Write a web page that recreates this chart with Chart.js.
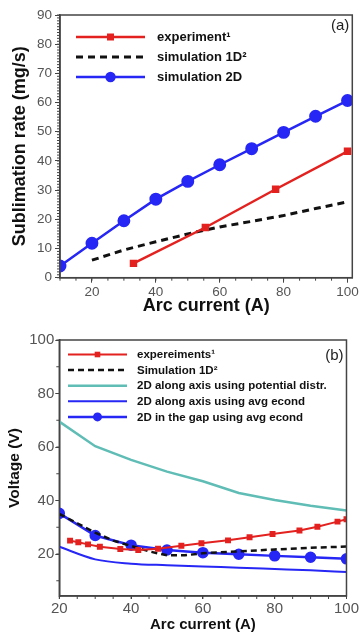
<!DOCTYPE html>
<html>
<head>
<meta charset="utf-8">
<script src="https://cdn.jsdelivr.net/npm/chart.js@4/dist/chart.umd.min.js"></script>
<style>
  body { margin: 0; background: #fff; }
  .panel { position: absolute; left: 0; width: 360px; height: 316px; }
</style>
</head>
<body>
<div class="panel" style="top:0"><canvas id="chartA" width="360" height="316"></canvas></div>
<div class="panel" style="top:316px"><canvas id="chartB" width="360" height="316"></canvas></div>
<script>
// ---- panel (a): sublimation rate ----
const simCurrentA = [10, 20, 30, 40, 50, 60, 70, 80, 90, 100];
const sim2DRate = [4.0, 11.8, 19.5, 26.9, 33.0, 38.7, 44.2, 49.8, 55.3, 60.7];
const expCurrentA = [33, 55.5, 77.5, 100];
const expRate = [4.9, 17.2, 30.3, 43.3];
const sim1DCurrentA = [20, 30, 40, 50, 60, 70, 80, 90, 100];
const sim1DRate = [6.0, 9.5, 12.3, 15.0, 17.4, 19.3, 21.3, 23.7, 26.0];
const xTicksA = [20, 40, 60, 80, 100];

// ---- panel (b): voltage ----
const expCurrentB = [23, 25.3, 28, 31.3, 37, 42, 47.5, 54, 59.6, 67, 73, 79.4, 86.9, 91.9, 97.5, 100];
const expVoltage = [25.0, 24.4, 23.6, 22.7, 21.9, 21.5, 22.0, 23.1, 24.0, 25.1, 26.3, 27.5, 28.8, 30.2, 32.1, 33.0];
const sim1DCurrentB = [20, 25, 30, 35, 40, 45, 50, 55, 60, 70, 80, 90, 100];
const sim1DVoltage = [35.0, 31.5, 28.0, 25.0, 23.0, 21.0, 19.5, 19.5, 20.3, 21.0, 21.7, 22.3, 22.8];
const simCurrentB = [20, 30, 40, 50, 60, 70, 80, 90, 100];
const potentialVoltage = [69.5, 60.3, 55.2, 50.8, 47.2, 42.8, 40.2, 38.0, 36.3];
const axisEcondVoltage = [22.7, 18.0, 16.4, 15.8, 15.3, 14.9, 14.4, 13.9, 13.3];
const gapEcondVoltage = [35.2, 26.9, 23.3, 21.5, 20.5, 19.9, 19.3, 18.8, 18.2];
const yTicksB = [20, 40, 60, 80, 100];
const xTicksB = [20, 40, 60, 80, 100];

const RED = '#e3211f';
const BLUE = '#2626f5';
const TEAL = '#5fbdb6';
const AXIS = '#444';

function pts(xs, ys) {
  return xs.map((x, i) => ({ x: x, y: ys[i] }));
}

// frame, minor ticks, inner legend and panel tag
const decorations = {
  id: 'decorations',
  afterDraw(chart, args, opts) {
    const ctx = chart.ctx;
    const a = chart.chartArea;
    const xs = chart.scales.x, ys = chart.scales.y;
    ctx.save();
    ctx.strokeStyle = AXIS;
    ctx.lineWidth = 1.5;
    ctx.strokeRect(a.left, a.top, a.right - a.left, a.bottom - a.top);

    ctx.lineWidth = 1;
    for (let v = opts.minorX.from; v <= xs.max; v += opts.minorX.step) {
      const px = xs.getPixelForValue(v);
      ctx.beginPath(); ctx.moveTo(px, a.bottom); ctx.lineTo(px, a.bottom + 3); ctx.stroke();
    }
    for (let v = opts.minorY.from; v <= ys.max; v += opts.minorY.step) {
      const py = ys.getPixelForValue(v);
      ctx.beginPath(); ctx.moveTo(a.left, py); ctx.lineTo(a.left - 3, py); ctx.stroke();
    }

    // legend
    const lg = opts.legend;
    ctx.font = lg.font;
    ctx.textBaseline = 'middle';
    chart.data.datasets.forEach((ds, i) => {
      const y = lg.y + i * lg.gap;
      ctx.strokeStyle = ds.borderColor;
      ctx.lineWidth = ds.borderWidth;
      ctx.setLineDash(ds.borderDash || []);
      ctx.beginPath(); ctx.moveTo(lg.x0, y); ctx.lineTo(lg.x1, y); ctx.stroke();
      ctx.setLineDash([]);
      if (ds.pointRadius > 0) {
        const cx = (lg.x0 + lg.x1) / 2;
        ctx.fillStyle = ds.borderColor;
        ctx.beginPath();
        if (ds.pointStyle === 'rect') {
          const r = ds.pointRadius;
          ctx.rect(cx - r, y - r, 2 * r, 2 * r);
        } else {
          ctx.arc(cx, y, ds.pointRadius, 0, Math.PI * 2);
        }
        ctx.fill();
      }
      ctx.fillStyle = '#111';
      ctx.textAlign = 'left';
      ctx.fillText(ds.label, lg.textX, y + 0.5);
    });

    ctx.font = opts.tag.font;
    ctx.fillStyle = '#222';
    ctx.textAlign = 'right';
    ctx.fillText(opts.tag.text, a.right - 3, opts.tag.y);
    ctx.restore();
  }
};

function tickFix(values) {
  return function (scale) {
    scale.ticks = values.map(v => ({ value: v }));
  };
}

new Chart(document.getElementById('chartA'), {
  type: 'line',
  plugins: [decorations],
  data: {
    datasets: [
      {
        label: 'experiment¹',
        data: pts(expCurrentA, expRate),
        borderColor: RED, backgroundColor: RED, borderWidth: 2.5,
        pointStyle: 'rect', pointRadius: 3.5
      },
      {
        label: 'simulation 1D²',
        data: pts(sim1DCurrentA, sim1DRate),
        borderColor: '#111', backgroundColor: '#111', borderWidth: 3,
        borderDash: [7, 5], pointRadius: 0
      },
      {
        label: 'simulation 2D',
        data: pts(simCurrentA, sim2DRate),
        borderColor: BLUE, backgroundColor: BLUE, borderWidth: 2.5,
        pointStyle: 'circle', pointRadius: 5.2
      }
    ]
  },
  options: {
    responsive: false,
    animation: false,
    layout: { padding: { top: 15, right: 7.5, left: 0, bottom: 0 } },
    plugins: {
      legend: { display: false },
      tooltip: { enabled: false },
      decorations: {
        minorX: { from: 10, step: 5 },
        minorY: { from: 0, step: 1 },
        legend: { x0: 76, x1: 145, textX: 157, y: 37, gap: 20, font: 'bold 13px "Liberation Sans", Arial, sans-serif' },
        tag: { text: '(a)', y: 26, font: '15px "Liberation Sans", Arial, sans-serif' }
      }
    },
    scales: {
      x: {
        type: 'linear', min: 10, max: 101.5,
        afterBuildTicks: tickFix(xTicksA),
        afterFit(s) { s.height = 38.3; },
        grid: { drawOnChartArea: false, tickLength: 5, color: AXIS },
        border: { color: AXIS, width: 1.5 },
        ticks: { color: '#555', padding: 1, font: { family: '"Liberation Sans", Arial', size: 13.5 } },
        title: { display: true, text: 'Arc current (A)', color: '#111', padding: { top: 0, bottom: 0 },
                 font: { family: '"Liberation Sans", Arial', size: 18, weight: 'bold', lineHeight: 1.1 } }
      },
      y: {
        min: 0, max: 90,
        ticks: { stepSize: 10, color: '#555', padding: 3, font: { family: '"Liberation Sans", Arial', size: 13.5 } },
        afterFit(s) { s.width = 60; },
        grid: { drawOnChartArea: false, tickLength: 5, color: AXIS },
        border: { color: AXIS, width: 1.5 },
        title: { display: true, text: 'Sublimation rate (mg/s)', color: '#111', padding: { top: 10, bottom: 0 },
                 font: { family: '"Liberation Sans", Arial', size: 18, weight: 'bold', lineHeight: 1.1 } }
      }
    }
  }
});

new Chart(document.getElementById('chartB'), {
  type: 'line',
  plugins: [decorations],
  data: {
    datasets: [
      {
        label: 'expereiments¹',
        data: pts(expCurrentB, expVoltage),
        borderColor: RED, backgroundColor: RED, borderWidth: 2,
        pointStyle: 'rect', pointRadius: 2.8
      },
      {
        label: 'Simulation 1D²',
        data: pts(sim1DCurrentB, sim1DVoltage),
        borderColor: '#111', backgroundColor: '#111', borderWidth: 2.5,
        borderDash: [6, 4], pointRadius: 0
      },
      {
        label: '2D along axis using potential distr.',
        data: pts(simCurrentB, potentialVoltage),
        borderColor: TEAL, backgroundColor: TEAL, borderWidth: 2.5, pointRadius: 0
      },
      {
        label: '2D along axis using avg econd',
        data: pts(simCurrentB, axisEcondVoltage),
        borderColor: BLUE, backgroundColor: BLUE, borderWidth: 2, pointRadius: 0,
        cubicInterpolationMode: 'monotone'
      },
      {
        label: '2D in the gap using avg econd',
        data: pts(simCurrentB, gapEcondVoltage),
        borderColor: BLUE, backgroundColor: BLUE, borderWidth: 2.5,
        pointStyle: 'circle', pointRadius: 4.5
      }
    ]
  },
  options: {
    responsive: false,
    animation: false,
    layout: { padding: { top: 24, right: 13, left: 0, bottom: 0 } },
    plugins: {
      legend: { display: false },
      tooltip: { enabled: false },
      decorations: {
        minorX: { from: 20, step: 5 },
        minorY: { from: 10, step: 10 },
        legend: { x0: 68, x1: 127, textX: 137, y: 38.5, gap: 15.6, font: 'bold 11.5px "Liberation Sans", Arial, sans-serif' },
        tag: { text: '(b)', y: 40, font: '15px "Liberation Sans", Arial, sans-serif' }
      }
    },
    scales: {
      x: {
        type: 'linear', min: 20, max: 100,
        afterBuildTicks: tickFix(xTicksB),
        afterFit(s) { s.height = 36; },
        grid: { drawOnChartArea: false, tickLength: 3, color: AXIS },
        border: { color: AXIS, width: 1.5 },
        ticks: { color: '#555', padding: 1, font: { family: '"Liberation Sans", Arial', size: 15 } },
        title: { display: true, text: 'Arc current (A)', color: '#111', padding: { top: 0, bottom: 0 },
                 font: { family: '"Liberation Sans", Arial', size: 15, weight: 'bold', lineHeight: 1.0 } }
      },
      y: {
        min: 4.3, max: 100,
        afterBuildTicks: tickFix(yTicksB),
        afterFit(s) { s.width = 59.3; },
        grid: { drawOnChartArea: false, tickLength: 4, color: AXIS },
        border: { color: AXIS, width: 1.5 },
        ticks: { color: '#555', padding: 1, font: { family: '"Liberation Sans", Arial', size: 15 } },
        title: { display: true, text: 'Voltage (V)', color: '#111', padding: { top: 6, bottom: 0 },
                 font: { family: '"Liberation Sans", Arial', size: 15.5, weight: 'bold', lineHeight: 1.1 } }
      }
    }
  }
});
</script>
</body>
</html>
